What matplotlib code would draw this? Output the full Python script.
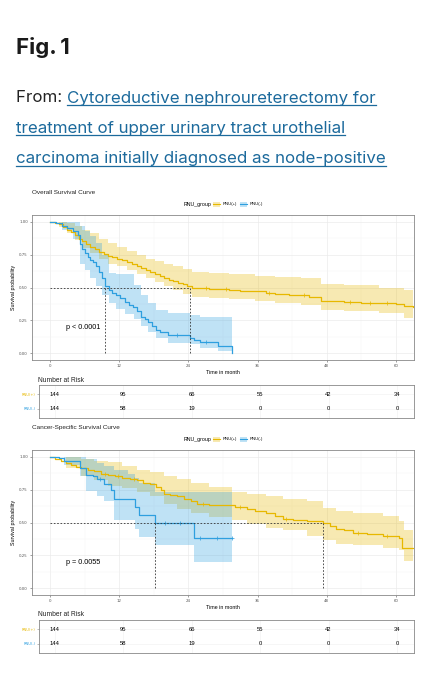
import numpy as np
import matplotlib
matplotlib.use("Agg")
import matplotlib.pyplot as plt
from matplotlib.patches import Rectangle
from matplotlib.lines import Line2D

# ============================================================
# data
# ============================================================
YEL = "#E7B800"
BLU = "#2E9FDF"

group_labels = ["RNU(+)", "RNU(-)"]
risk_times = [0, 12, 24, 36, 48, 60]
risk_pos = [144, 95, 66, 55, 42, 34]
risk_neg = [144, 58, 19, 0, 0, 0]

# --- overall survival, RNU(+)
os_pos_t = [0, 0.8, 1.5, 2.2, 3.0, 3.6, 4.3, 5.0, 5.6, 6.3, 7.0, 7.8, 8.5, 9.3, 10.0,
            10.8, 11.6, 12.5, 13.3, 14.2, 15.0, 15.8, 16.6, 17.4, 18.2, 19.0, 19.8,
            20.6, 21.4, 22.2, 23.0, 23.8, 24.6, 25.8, 27.5, 29.0, 31.0, 33.0, 35.5,
            37.5, 39.0, 41.5, 43.5, 45.0, 47.0, 48.5, 51.0, 54.0, 57.0, 60.0, 61.5, 63.0]
os_pos_s = [1.0, 0.99, 0.98, 0.96, 0.94, 0.92, 0.90, 0.87, 0.85, 0.83, 0.81, 0.79, 0.77,
            0.755, 0.74, 0.73, 0.72, 0.705, 0.695, 0.68, 0.665, 0.65, 0.635, 0.62, 0.605,
            0.59, 0.575, 0.56, 0.55, 0.535, 0.525, 0.51, 0.50, 0.495, 0.49, 0.485, 0.48,
            0.475, 0.47, 0.46, 0.45, 0.445, 0.44, 0.43, 0.40, 0.395, 0.39, 0.385, 0.38,
            0.375, 0.36, 0.35]
os_pos_ci_t = [0, 1.5, 3.0, 4.3, 5.6, 7.0, 8.5, 10.0, 11.6, 13.3, 15.0, 16.6, 18.2, 19.8,
               21.4, 23.0, 24.6, 27.5, 31.0, 35.5, 39.0, 43.5, 47.0, 51.0, 57.0, 61.5, 63.0]
os_pos_hi = [1.0, 1.0, 0.99, 0.97, 0.94, 0.91, 0.87, 0.84, 0.81, 0.78, 0.75, 0.72, 0.70,
             0.68, 0.66, 0.64, 0.62, 0.61, 0.60, 0.59, 0.58, 0.57, 0.53, 0.52, 0.50, 0.48, 0.47]
os_pos_lo = [1.0, 0.96, 0.91, 0.86, 0.80, 0.76, 0.72, 0.68, 0.66, 0.63, 0.60, 0.57, 0.54,
             0.51, 0.48, 0.45, 0.43, 0.42, 0.41, 0.40, 0.38, 0.37, 0.33, 0.32, 0.31, 0.27, 0.26]

# --- overall survival, RNU(-)
os_neg_t = [0, 1.0, 2.0, 3.0, 4.0, 4.8, 5.2, 5.6, 6.0, 6.5, 7.0, 7.5, 8.0, 8.5, 9.0, 9.6,
            10.2, 10.8, 11.5, 12.2, 13.0, 13.7, 14.3, 15.0, 15.7, 16.4, 17.0, 17.6, 18.3,
            19.0, 20.5, 24.3, 25.0, 26.0, 29.2, 31.6]
os_neg_s = [1.0, 0.99, 0.97, 0.95, 0.93, 0.90, 0.83, 0.79, 0.76, 0.73, 0.71, 0.69, 0.66,
            0.62, 0.57, 0.51, 0.48, 0.46, 0.44, 0.42, 0.39, 0.37, 0.35, 0.32, 0.28, 0.26,
            0.24, 0.21, 0.18, 0.16, 0.14, 0.12, 0.10, 0.09, 0.055, 0.0]
os_neg_ci_t = [0, 2.0, 4.0, 5.2, 6.0, 7.0, 8.0, 9.0, 10.2, 11.5, 13.0, 14.5, 15.7, 17.0,
               18.3, 20.5, 24.3, 26.0, 29.2, 31.6]
os_neg_hi = [1.0, 1.0, 1.0, 0.97, 0.93, 0.89, 0.84, 0.75, 0.61, 0.60, 0.60, 0.52, 0.44,
             0.38, 0.33, 0.31, 0.29, 0.28, 0.28, 0.28]
os_neg_lo = [1.0, 0.94, 0.87, 0.68, 0.63, 0.57, 0.51, 0.44, 0.38, 0.34, 0.30, 0.26, 0.21,
             0.16, 0.12, 0.08, 0.07, 0.04, 0.02, 0.0]

# --- cancer-specific survival, RNU(+)
css_pos_t = [0, 0.8, 1.8, 2.8, 3.6, 4.5, 5.3, 6.5, 7.6, 8.8, 10.0, 11.2, 12.5, 13.8, 15.0,
             16.2, 17.4, 18.4, 19.2, 19.8, 20.8, 22.0, 23.2, 24.5, 25.5, 27.5, 30.0, 32.0,
             34.1, 35.5, 37.5, 39.0, 40.5, 42.1, 44.5, 47.3, 48.5, 49.6, 51.0, 52.5, 55.0,
             57.7, 60.5, 61.0, 63.0]
css_pos_s = [1.0, 0.98, 0.97, 0.95, 0.94, 0.92, 0.91, 0.90, 0.89, 0.87, 0.86, 0.85, 0.84,
             0.83, 0.82, 0.80, 0.79, 0.77, 0.75, 0.72, 0.71, 0.70, 0.68, 0.66, 0.64, 0.635,
             0.63, 0.62, 0.60, 0.59, 0.57, 0.55, 0.53, 0.52, 0.515, 0.50, 0.47, 0.45, 0.44,
             0.42, 0.41, 0.40, 0.38, 0.31, 0.31]
css_pos_ci_t = [0, 2.8, 5.3, 7.6, 10.0, 12.5, 15.0, 17.4, 19.8, 22.0, 24.5, 27.5, 31.5,
                34.1, 37.5, 40.5, 44.5, 47.3, 49.6, 52.5, 57.7, 60.5, 61.5, 63.0]
css_pos_hi = [1.0, 1.0, 0.98, 0.97, 0.96, 0.93, 0.90, 0.88, 0.85, 0.83, 0.80, 0.77, 0.73,
              0.72, 0.70, 0.68, 0.66, 0.61, 0.59, 0.57, 0.55, 0.51, 0.44, 0.44]
css_pos_lo = [1.0, 0.91, 0.85, 0.82, 0.78, 0.76, 0.73, 0.70, 0.64, 0.60, 0.57, 0.54, 0.52,
              0.49, 0.46, 0.44, 0.40, 0.37, 0.34, 0.33, 0.31, 0.29, 0.21, 0.21]

# --- cancer-specific survival, RNU(-)
css_neg_t = [0, 1.5, 2.4, 3.5, 5.2, 6.2, 7.5, 8.2, 9.3, 10.5, 11.0, 13.5, 14.8, 15.4,
             18.2, 24.9, 31.6]
css_neg_s = [1.0, 0.99, 0.97, 0.97, 0.91, 0.86, 0.85, 0.83, 0.79, 0.75, 0.68, 0.68, 0.62,
             0.56, 0.50, 0.38, 0.38]
css_neg_ci_t = [0, 2.4, 5.2, 6.2, 8.2, 9.3, 11.0, 13.5, 14.8, 15.4, 18.2, 24.9, 31.6]
css_neg_hi = [1.0, 1.0, 1.0, 0.98, 0.95, 0.93, 0.90, 0.87, 0.84, 0.80, 0.73, 0.73, 0.73]
css_neg_lo = [1.0, 0.94, 0.85, 0.74, 0.70, 0.66, 0.52, 0.52, 0.45, 0.39, 0.33, 0.20, 0.20]

# censor marks (times only, the height is taken from the curve)
os_pos_cens = [27.0, 30.5, 38.0, 44.0, 52.0, 55.5, 58.5]
os_neg_cens = [22.0, 27.0]
css_pos_cens = [9.5, 11.8, 14.5, 26.5, 33.0, 41.0, 53.5, 58.5]
css_neg_cens = [8.6, 20.0, 22.5, 26.0, 29.0, 31.6]

medians_os = [9.6, 24.3]
medians_css = [18.2, 47.3]

# ============================================================
# figure
# ============================================================
W, H = 431, 680
fig = plt.figure(figsize=(W / 100, H / 100), dpi=100)
fig.patch.set_facecolor("white")
CH = ["Liberation Sans", "DejaVu Sans"]
PAGE = ["Inter", "DejaVu Sans"]


def fx(x):
    return x / W


def fy(y):
    return 1 - y / H


def rect(x0, y0, x1, y1):
    return [fx(x0), fy(y1), (x1 - x0) / W, (y1 - y0) / H]


# header
fig.text(fx(16), fy(54), "Fig.\u20091", fontsize=16, fontweight="bold", family=PAGE,
         color="#1a1a1a", va="baseline")

LINK = "#1c6a9c"
FS = 12.2
renderer = fig.canvas.get_renderer()


def underlined(x, y, s):
    t = fig.text(fx(x), fy(y), s, fontsize=FS, family=PAGE, color=LINK, va="baseline")
    bb = t.get_window_extent(renderer=renderer)
    yl = fy(y + 2.2)
    fig.add_artist(Line2D([bb.x0 / W, bb.x1 / W], [yl, yl], color=LINK, lw=0.9))
    return bb


fr = fig.text(fx(16), fy(102.5), "From: ", fontsize=FS, family=PAGE, color="#222222",
              va="baseline")
bb = fr.get_window_extent(renderer=renderer)
underlined(bb.x1, 102.5, "Cytoreductive nephroureterectomy for")
underlined(16, 133, "treatment of upper urinary tract urothelial")
underlined(16, 163.5, "carcinoma initially diagnosed as node-positive")


def step_val(ts, ss, t):
    i = np.searchsorted(ts, t, side="right") - 1
    return ss[max(i, 0)]


def km_panel(top, title, curves, medians, ptext):
    # title + legend
    fig.text(fx(32), fy(top - 23), title, fontsize=4.6, family=CH, color="#222222",
             va="center")
    ly = top - 11
    fig.text(fx(184), fy(ly), "RNU_group", fontsize=3.8, family=CH, va="center")
    for kx, col, lab in [(213, YEL, group_labels[0]), (240, BLU, group_labels[1])]:
        fig.add_artist(Rectangle((fx(kx), fy(ly + 2.5)), 7 / W, 5 / H, facecolor=col,
                                 alpha=0.3, edgecolor="none"))
        fig.add_artist(Line2D([fx(kx), fx(kx + 7)], [fy(ly), fy(ly)], color=col, lw=0.8))
        fig.text(fx(kx + 10), fy(ly), lab, fontsize=3.0, family=CH, va="center")

    ax = fig.add_axes(rect(32, top, 414, top + 145))
    for t, s, ct, hi, lo, cens, col in curves:
        ax.fill_between(ct, lo, hi, step="post", color=col, alpha=0.3, lw=0)
        ax.step(t, s, where="post", color=col, lw=0.9)
        cy = [step_val(t, s, c) for c in cens]
        ax.plot(cens, cy, ls="none", marker="+", ms=2.2, mew=0.5, color=col)

    ax.plot([0, max(medians)], [0.5, 0.5], ls=(0, (2, 2)), color="#333333", lw=0.6)
    for m in medians:
        ax.plot([m, m], [0, 0.5], ls=(0, (2, 2)), color="#333333", lw=0.6)
    ax.text(2.7, 0.2, ptext, fontsize=5.2, family=CH, va="center")

    ax.set_xlim(-3.15, 63.15)
    ax.set_ylim(-0.05, 1.05)
    ax.set_xticks(risk_times)
    ax.set_xticks([6, 18, 30, 42, 54], minor=True)
    ax.set_yticks([0, 0.25, 0.5, 0.75, 1.0])
    ax.set_yticks([0.125, 0.375, 0.625, 0.875], minor=True)
    ax.set_yticklabels(["0.00", "0.25", "0.50", "0.75", "1.00"])
    ax.grid(which="major", color="#ebebeb", lw=0.5)
    ax.grid(which="minor", color="#f4f4f4", lw=0.35)
    ax.set_axisbelow(True)
    ax.tick_params(labelsize=2.8, length=1.5, width=0.4, colors="#555555", pad=1.5,
                   which="major")
    ax.tick_params(which="minor", length=0)
    for sp in ax.spines.values():
        sp.set_color("#888888")
        sp.set_linewidth(0.6)
    ax.set_xlabel("Time in month", fontsize=3.8, family=CH, labelpad=1.5)
    ax.set_ylabel("Survival probability", fontsize=3.8, family=CH, labelpad=2)

    # number at risk table
    fig.text(fx(38), fy(top + 165), "Number at Risk", fontsize=4.8, family=CH,
             color="#222222", va="center")
    tb = fig.add_axes(rect(39, top + 170, 414, top + 203))
    tb.set_xlim(-2.8, 63)
    tb.set_ylim(0, 1)
    for x, a, b in zip(risk_times, risk_pos, risk_neg):
        tb.text(x, 0.72, str(a), fontsize=4.2, family=CH, ha="center", va="center")
        tb.text(x, 0.28, str(b), fontsize=4.2, family=CH, ha="center", va="center")
    tb.set_xticks(risk_times)
    tb.set_yticks([0.28, 0.72])
    tb.set_xticklabels([])
    tb.set_yticklabels([group_labels[1], group_labels[0]])
    tb.tick_params(labelsize=2.6, length=1.2, width=0.4, pad=1.2, colors="#888888")
    for lab, col in zip(tb.get_yticklabels(), [BLU, YEL]):
        lab.set_color(col)
    tb.tick_params(axis="x", length=0)
    tb.grid(color="#f0f0f0", lw=0.4)
    tb.set_axisbelow(True)
    for sp in tb.spines.values():
        sp.set_color("#888888")
        sp.set_linewidth(0.6)


km_panel(215, "Overall Survival Curve",
         [(os_pos_t, os_pos_s, os_pos_ci_t, os_pos_hi, os_pos_lo, os_pos_cens, YEL),
          (os_neg_t, os_neg_s, os_neg_ci_t, os_neg_hi, os_neg_lo, os_neg_cens, BLU)],
         medians_os, "p < 0.0001")

km_panel(450, "Cancer-Specific Survival Curve",
         [(css_pos_t, css_pos_s, css_pos_ci_t, css_pos_hi, css_pos_lo, css_pos_cens, YEL),
          (css_neg_t, css_neg_s, css_neg_ci_t, css_neg_hi, css_neg_lo, css_neg_cens, BLU)],
         medians_css, "p = 0.0055")

fig.savefig("out.png", dpi=100)
